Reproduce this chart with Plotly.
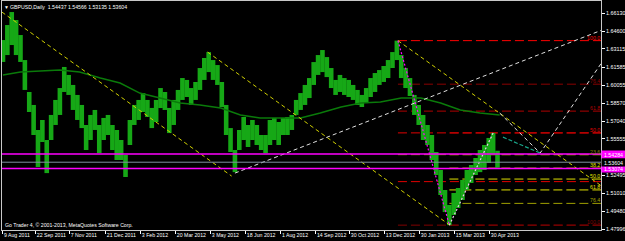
import plotly.graph_objects as go

# ---------------- data ----------------
tick_bars = [0, 30, 61, 94, 126, 158, 190, 222, 254, 286, 317, 349, 381, 413, 445]
tick_labels = ["9 Aug 2011", "22 Sep 2011", "7 Nov 2011", "21 Dec 2011", "3 Feb 2012",
               "20 Mar 2012", "3 May 2012", "18 Jun 2012", "1 Aug 2012", "14 Sep 2012",
               "30 Oct 2012", "13 Dec 2012", "30 Jan 2013", "15 Mar 2013", "30 Apr 2013"]

price_ticks = [1.47996, 1.49480, 1.51010, 1.52495, 1.54025, 1.55555, 1.57040,
               1.58570, 1.60055, 1.61585, 1.63115, 1.64600, 1.66130]
price_tick_labels = ["1.47996", "1.49480", "1.51010", "1.52495", "", "1.55555", "1.57040",
                     "1.58570", "1.60055", "1.61585", "1.63115", "1.64600", "1.66130"]

# daily bars sampled every 4 bars (high / low)
bar_step = 4
highs = [1.6386, 1.6512, 1.6621, 1.6554, 1.6428, 1.6218, 1.5950, 1.5841, 1.5631, 1.5715,
         1.5547, 1.5757, 1.5883, 1.5983, 1.6160, 1.6093, 1.6009, 1.5925, 1.5841, 1.5673,
         1.5757, 1.5799, 1.5673, 1.5732, 1.5757, 1.5673, 1.5631, 1.5547, 1.5421, 1.5715,
         1.5841, 1.5883, 1.5941, 1.5883, 1.5816, 1.5883, 1.5983, 1.5950, 1.5816, 1.5883,
         1.5967, 1.6067, 1.6051, 1.5983, 1.6034, 1.6151, 1.6235, 1.6285, 1.6218, 1.6176,
         1.6034, 1.5841, 1.5647, 1.5463, 1.5631, 1.5740, 1.5673, 1.5715, 1.5673, 1.5589,
         1.5589, 1.5715, 1.5732, 1.5698, 1.5732, 1.5740, 1.5757, 1.5883, 1.5941, 1.6009,
         1.6067, 1.6201, 1.6260, 1.6302, 1.6243, 1.6151, 1.6051, 1.6093, 1.6067, 1.6051,
         1.6009, 1.5967, 1.5925, 1.5983, 1.6067, 1.6109, 1.6134, 1.6168, 1.6218, 1.6285,
         1.6381, 1.6260, 1.6151, 1.6067, 1.5925, 1.5841, 1.5757, 1.5673, 1.5589, 1.5446,
         1.5295, 1.5127, 1.5001, 1.5102, 1.5144, 1.5211, 1.5295, 1.5337, 1.5396, 1.5463,
         1.5505, 1.5564, 1.5606, 1.54566]
lows = [1.6202, 1.6260, 1.6344, 1.6260, 1.6202, 1.5967, 1.5782, 1.5589, 1.5320, 1.5530,
        1.5269, 1.5547, 1.5673, 1.5757, 1.5950, 1.5925, 1.5799, 1.5715, 1.5647, 1.5463,
        1.5547, 1.5631, 1.5437, 1.5547, 1.5589, 1.5463, 1.5379, 1.5379, 1.5236, 1.5505,
        1.5673, 1.5715, 1.5782, 1.5740, 1.5647, 1.5698, 1.5815, 1.5799, 1.5605, 1.5673,
        1.5799, 1.5883, 1.5908, 1.5841, 1.5883, 1.5967, 1.6051, 1.6117, 1.6051, 1.6009,
        1.5823, 1.5589, 1.5446, 1.5277, 1.5463, 1.5547, 1.5488, 1.5547, 1.5505, 1.5463,
        1.5437, 1.5505, 1.5547, 1.5505, 1.5589, 1.5589, 1.5631, 1.5757, 1.5799, 1.5841,
        1.5899, 1.6009, 1.6093, 1.6117, 1.6075, 1.5983, 1.5925, 1.5950, 1.5925, 1.5908,
        1.5883, 1.5841, 1.5824, 1.5857, 1.5908, 1.5950, 1.6009, 1.6034, 1.6067, 1.6151,
        1.6218, 1.6067, 1.5983, 1.5916, 1.5757, 1.5673, 1.5547, 1.5505, 1.5379, 1.5253,
        1.5085, 1.4942, 1.4832, 1.4917, 1.4976, 1.5043, 1.5127, 1.5186, 1.5253, 1.5277,
        1.5295, 1.5354, 1.5421, 1.53135]

# moving average
ma_bars = [0, 16, 52, 70, 89, 107, 125, 144, 162, 180, 199, 217, 235, 254, 272, 290,
           309, 327, 345, 364, 382, 400, 418, 436, 454]
ma_vals = [1.6093, 1.6118, 1.6134, 1.6118, 1.6067, 1.6025, 1.5941, 1.5899, 1.5857, 1.5841,
           1.5815, 1.5757, 1.5731, 1.5731, 1.5731, 1.5773, 1.5824, 1.5857, 1.5866, 1.5899,
           1.5899, 1.5857, 1.5798, 1.5773, 1.5757]

# trend lines
trendA_bars, trendA_prices = [-1, 209], [1.6621, 1.5244]
trendB_bars, trendB_prices = [187, 408], [1.6285, 1.4835]
trendC_bars, trendC_prices = [361, 547], [1.6381, 1.5161]
trendD_bars, trendD_prices = [212, 547], [1.5269, 1.6468]
proj_bars, proj_prices = [454, 491, 547], [1.5773, 1.5437, 1.6193]
teal_bars, teal_prices = [457, 491], [1.5571, 1.5437]
zz1_bars, zz1_prices = [361, 408], [1.6381, 1.4832]
zz2_bars, zz2_prices = [408, 448], [1.4832, 1.5606]

# fibonacci anchors
fibA_start, fibA_high, fibA_low = 361, 1.6381, 1.4832
fibB_start, fibB_low, fibB_high = 408, 1.4832, 1.5606
fib_levels = [0.0, 23.6, 38.2, 50.0, 61.8, 76.4, 100.0]
fibA_colors = ["#800000", "#E00000", "#8A8A00", "#E00000", "#B00000", "#8B0000", "#FF0000"]
fibA_show = [False, False, False, True, True, True, True]
fibB_colors = ["#C00000", "#8A8A00", "#E0E000", "#E0E000", "#E0E000", "#A0A000", "#800000"]
fibB_show = [False, True, True, True, True, True, True]

hlines_magenta = [1.54284, 1.53074]
bid_price = 1.53604
header = "GBPUSD,Daily  1.54437 1.54566 1.53135 1.53604"
copyright_txt = "Go Trader 4, \u00a9 2001-2013, MetaQuotes Software Corp."

X_MIN, X_MAX = -0.9, 546.6
Y_MIN, Y_MAX = 1.47913, 1.67137
FONT = "Liberation Sans, Arial, sans-serif"

fig = go.Figure()

def line(xs, ys, color, width=1, dash="solid"):
    fig.add_trace(go.Scatter(x=xs, y=ys, mode="lines", hoverinfo="skip",
                             line=dict(color=color, width=width, dash=dash),
                             showlegend=False))

# fib lines (background)
rngB = fibB_high - fibB_low
for lv, c in zip(fib_levels, fibB_colors):
    p = fibB_high - lv / 100 * rngB
    line([fibB_start, X_MAX], [p, p], c, 1, "9px,4px")
rngA = fibA_high - fibA_low
for lv, c in zip(fib_levels, fibA_colors):
    p = fibA_low + lv / 100 * rngA
    line([fibA_start, X_MAX], [p, p], c, 1, "9px,4px")

# price bars
bx, by = [], []
for i, (h, l) in enumerate(zip(highs, lows)):
    b = i * bar_step
    bx += [b, b, None]
    by += [l, h, None]
line(bx, by, "#16A816", 4.6)

# moving average
line(ma_bars, ma_vals, "#0A7A0A", 1.5)

# trendlines
line(trendA_bars, trendA_prices, "#D0D000", 1, "4px,3px")
line(trendB_bars, trendB_prices, "#D0D000", 1, "4px,3px")
line(trendC_bars, trendC_prices, "#D0D000", 1, "4px,3px")
line(trendD_bars, trendD_prices, "#E0E0E0", 1, "4px,3px")
line(proj_bars, proj_prices, "#E0E0E0", 1, "4px,3px")
line(teal_bars, teal_prices, "#1AA58A", 1.2, "4px,2px")
line(zz1_bars, zz1_prices, "#FF00FF", 1.2, "2px,2px")
line(zz2_bars, zz2_prices, "#F0C8F0", 1.2, "2px,2px")

# horizontal lines
for p in hlines_magenta:
    line([X_MIN, X_MAX], [p, p], "#FF00FF", 1.5)
line([X_MIN, X_MAX], [bid_price, bid_price], "#8090A0", 1)

LBL = 5.3
ann = []
# fib labels
for lv, c, s in zip(fib_levels, fibA_colors, fibA_show):
    if s:
        p = fibA_low + lv / 100 * rngA
        ann.append(dict(x=X_MAX, y=p, xref="x", yref="y", xanchor="right", yanchor="bottom",
                        text=f"{lv:.1f}", showarrow=False, borderpad=0, yshift=-1,
                        font=dict(size=LBL, color=c, family=FONT)))
for lv, c, s in zip(fib_levels, fibB_colors, fibB_show):
    if s:
        p = fibB_high - lv / 100 * rngB
        ann.append(dict(x=X_MAX, y=p, xref="x", yref="y", xanchor="right", yanchor="bottom",
                        text=f"{lv:.1f}", showarrow=False, borderpad=0, yshift=-1,
                        font=dict(size=LBL, color=c, family=FONT)))

# price boxes
for p in hlines_magenta:
    ann.append(dict(x=1, y=p, xref="paper", yref="y", xanchor="left", yanchor="middle",
                    text=f"{p:.5f}", showarrow=False, bgcolor="#FF00FF", borderpad=0,
                    width=23, height=7, font=dict(size=5.3, color="white", family=FONT)))
ann.append(dict(x=1, y=bid_price, xref="paper", yref="y", xanchor="left", yanchor="middle",
                text=f"{bid_price:.5f}", showarrow=False, bgcolor="black", borderpad=0,
                width=23, height=7, font=dict(size=5.3, color="white", family=FONT)))

# header & copyright
ann.append(dict(x=0, y=1, xref="paper", yref="paper", xanchor="left", yanchor="top",
                xshift=0, yshift=-1, text="\u25bc", showarrow=False,
                font=dict(size=5, color="white", family=FONT)))
ann.append(dict(x=0, y=1, xref="paper", yref="paper", xanchor="left", yanchor="top",
                xshift=6, yshift=-1, text=header, showarrow=False,
                font=dict(size=5.2, color="white", family=FONT)))
ann.append(dict(x=0, y=0, xref="paper", yref="paper", xanchor="left", yanchor="bottom",
                xshift=1, yshift=0, text=copyright_txt, showarrow=False,
                font=dict(size=5.2, color="white", family=FONT)))

fig.update_layout(
    width=625, height=241,
    margin=dict(l=2, r=24, t=1, b=11),
    paper_bgcolor="black", plot_bgcolor="black",
    showlegend=False,
    annotations=ann,
    xaxis=dict(range=[X_MIN, X_MAX], showgrid=False, zeroline=False,
               tickmode="array", tickvals=tick_bars, ticktext=tick_labels,
               ticks="outside", ticklen=3, tickcolor="white", tickwidth=1,
               ticklabelposition="outside right", tickangle=0,
               tickfont=dict(size=5.2, color="white", family=FONT),
               showline=True, linecolor="#C8C8C8", linewidth=1, mirror=True,
               automargin=False, fixedrange=True),
    yaxis=dict(range=[Y_MIN, Y_MAX], side="right", showgrid=False, zeroline=False,
               tickmode="array", tickvals=price_ticks, ticktext=price_tick_labels,
               ticks="outside", ticklen=3, tickcolor="white", tickwidth=1,
               tickfont=dict(size=5.4, color="white", family=FONT),
               showline=True, linecolor="#C8C8C8", linewidth=1, mirror=True,
               automargin=False, fixedrange=True),
)

fig.write_html("out.html")
